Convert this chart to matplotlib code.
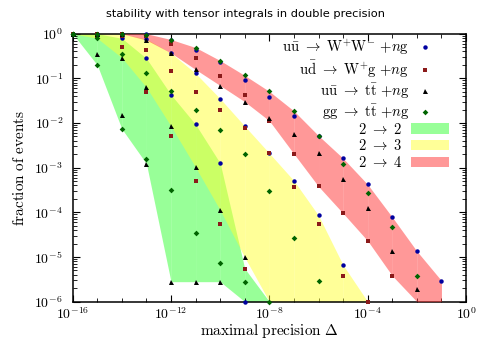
import matplotlib
matplotlib.use('Agg')
import matplotlib.pyplot as plt
import numpy as np
from matplotlib.lines import Line2D
from matplotlib.patches import Patch

plt.rcParams['mathtext.fontset'] = 'cm'
plt.rcParams['font.family'] = 'DejaVu Sans'

# precision thresholds 10^-16 ... 10^-1
delta = 10.0 ** np.arange(-16, 0)

# fraction of events with precision worse than delta (0 = no events)
# u ubar -> W+ W- + n g   (n = 0, 1, 2)
ww_22 = [1, 1, 0.79, 0.28, 0.043, 0.0093, 0.00126, 1e-6, 0, 0, 0, 0, 0, 0, 0, 0]
ww_23 = [1, 1, 1, 0.76, 0.37, 0.129, 0.035, 0.0085, 0.0021, 5.1e-4, 8.5e-5, 6.6e-6, 0, 0, 0, 0]
ww_24 = [1, 1, 1, 1, 0.74, 0.43, 0.23, 0.093, 0.038, 0.0145, 0.005, 0.00162, 4.2e-4, 7.8e-5, 1.35e-5, 2.95e-6]
# u dbar -> W+ g + n g
wg_22 = [1, 0.87, 0.51, 0.05, 0.0051, 5.0e-4, 5.6e-5, 5.5e-6, 0, 0, 0, 0, 0, 0, 0, 0]
wg_23 = [1, 1, 0.89, 0.44, 0.143, 0.05, 0.0196, 0.0078, 0.0021, 3.6e-4, 5.5e-5, 3.8e-6, 1e-6, 0, 0, 0]
wg_24 = [1, 1, 1, 0.9, 0.60, 0.284, 0.114, 0.043, 0.0112, 0.00204, 3.8e-4, 9.5e-5, 2.3e-5, 3.8e-6, 0, 0]
# u ubar -> t tbar + n g
uutt_22 = [1, 0.355, 0.0155, 0.00123, 2.8e-6, 2.8e-6, 2.8e-6, 0, 0, 0, 0, 0, 0, 0, 0, 0]
uutt_23 = [1, 1, 0.29, 0.063, 0.0085, 0.00102, 1.12e-4, 9.8e-6, 0, 0, 0, 0, 0, 0, 0, 0]
uutt_24 = [1, 1, 1, 0.72, 0.37, 0.158, 0.069, 0.030, 0.0129, 0.0058, 0.00214, 5.6e-4, 1.23e-4, 1.38e-5, 1.9e-6, 0]
# g g -> t tbar + n g
ggtt_22 = [1, 0.20, 0.0074, 0.0016, 3.2e-4, 3.5e-5, 7.2e-6, 2.8e-6, 1e-6, 0, 0, 0, 0, 0, 0, 0]
ggtt_23 = [1, 0.79, 0.35, 0.135, 0.051, 0.0193, 0.0069, 0.002, 2.95e-4, 2.6e-5, 2.9e-6, 0, 0, 0, 0, 0]
ggtt_24 = [1, 1, 1, 0.93, 0.73, 0.49, 0.25, 0.116, 0.051, 0.0186, 0.0052, 0.00123, 2.75e-4, 4.8e-5, 3.8e-6, 0]

process_labels = [
    r'$\mathrm{u\bar{u}}\ \rightarrow\ \mathrm{W^{+}W^{-}}\ {+}n\mathrm{g}$',
    r'$\mathrm{u\bar{d}}\ \rightarrow\ \mathrm{W^{+}g}\ {+}n\mathrm{g}$',
    r'$\mathrm{u\bar{u}}\ \rightarrow\ \mathrm{t\bar{t}}\ {+}n\mathrm{g}$',
    r'$\mathrm{gg}\ \rightarrow\ \mathrm{t\bar{t}}\ {+}n\mathrm{g}$',
]
band_labels = [r'$2\ \rightarrow\ 2$', r'$2\ \rightarrow\ 3$', r'$2\ \rightarrow\ 4$']

YMIN = 1e-6

processes = [
    (ww_22, ww_23, ww_24, 'o', '#0000a0', 3.2),
    (wg_22, wg_23, wg_24, 's', '#8b1a1a', 2.9),
    (uutt_22, uutt_23, uutt_24, '^', 'black', 3.6),
    (ggtt_22, ggtt_23, ggtt_24, 'D', '#006400', 2.9),
]
band_colors = ['#33ff33', '#ffff33', '#ff3333']

fig = plt.figure(figsize=(4.78, 3.42), dpi=100)
ax = fig.add_axes([0.152, 0.118, 0.823, 0.7835])

# bands: min/max over the four processes for each multiplicity
for k, color in enumerate(band_colors):
    vals = np.array([p[k] for p in processes], dtype=float)
    hi = vals.max(axis=0)
    lo = np.where(vals > 0, vals, YMIN).min(axis=0)
    keep = hi > 0
    d, lo, hi = delta[keep], lo[keep], hi[keep]
    for i in range(len(d) - 1):
        ax.fill_between(d[i:i + 2], lo[i:i + 2], hi[i:i + 2], color=color,
                        alpha=0.5, lw=0, zorder=1 + k)

for p in processes:
    y = np.concatenate([np.asarray(s, dtype=float) for s in p[:3]])
    x = np.tile(delta, 3)
    y = np.where(y > 0, y, np.nan)
    ax.plot(x, y, ls='none', marker=p[3], color=p[4], ms=p[5], mew=0,
            clip_on=False, zorder=5)

ax.set_xscale('log')
ax.set_yscale('log')
ax.set_xlim(1e-16, 1)
ax.set_ylim(YMIN, 1)

ax.set_xticks([10.0 ** k for k in range(-16, 1, 4)])
ax.set_xticklabels([r'$10^{%d}$' % k for k in range(-16, 1, 4)])
ax.set_xticks([10.0 ** k for k in range(-16, 1)], minor=True)
ax.xaxis.set_minor_formatter(matplotlib.ticker.NullFormatter())
ax.set_yticks([10.0 ** k for k in range(-6, 1)])
ax.set_yticklabels([r'$10^{%d}$' % k for k in range(-6, 1)])
ax.yaxis.set_minor_locator(matplotlib.ticker.LogLocator(subs=np.arange(2, 10), numticks=20))
ax.yaxis.set_minor_formatter(matplotlib.ticker.NullFormatter())
ax.tick_params(which='both', direction='in', top=True, right=True, labelsize=10)
ax.tick_params(axis='x', pad=3.5)
ax.tick_params(axis='y', pad=7)
ax.tick_params(which='major', length=5, width=0.8)
ax.tick_params(which='minor', length=3, width=0.6)
for s in ax.spines.values():
    s.set_linewidth(1.1)

ax.set_xlabel(r'$\mathrm{maximal\ precision}\ \Delta$', fontsize=11, labelpad=0)
ax.set_ylabel(r'$\mathrm{fraction\ of\ events}$', fontsize=11, labelpad=5)
fig.text(0.513, 0.958, 'stability with tensor integrals in double precision',
         ha='center', va='center', fontsize=8.2)

h1 = [Line2D([], [], ls='none', marker=p[3], color=p[4], ms=p[5], mew=0) for p in processes]
leg1 = ax.legend(h1, process_labels, loc='upper right', bbox_to_anchor=(0.92, 0.985),
                 frameon=False, markerfirst=False, fontsize=10.5, handlelength=1.25,
                 handletextpad=0.5, labelspacing=0.12, borderpad=0, borderaxespad=0)
ax.add_artist(leg1)
h2 = [Patch(facecolor=c, alpha=0.5, lw=0) for c in band_colors]
ax.legend(h2, band_labels, loc='upper right', bbox_to_anchor=(0.957, 0.672),
          frameon=False, markerfirst=False, fontsize=10.5, handlelength=2.6,
          handleheight=0.72, handletextpad=0.6, labelspacing=0.12, borderpad=0,
          borderaxespad=0)

fig.savefig('out.png', dpi=100)
